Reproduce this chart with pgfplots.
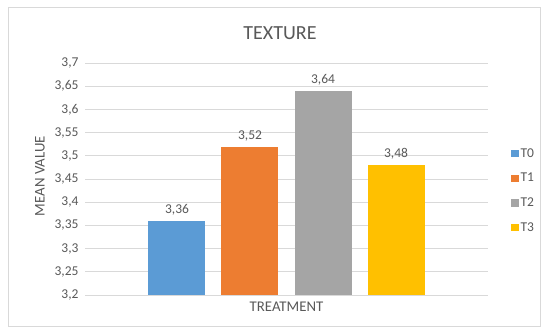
\documentclass[border=0pt]{standalone}
\usepackage{fontspec}
\setmainfont{Carlito}
\usepackage{pgfplots}
\pgfplotsset{compat=1.18}

\definecolor{txt}{HTML}{595959}
\definecolor{gridc}{HTML}{D9D9D9}
\definecolor{cT0}{HTML}{5B9BD5}
\definecolor{cT1}{HTML}{ED7D31}
\definecolor{cT2}{HTML}{A5A5A5}
\definecolor{cT3}{HTML}{FFC000}

\newcommand{\sq}[1]{\fill[#1] (0pt,-3.6pt) rectangle (7.2pt,3.6pt);}

\begin{document}
\begin{tikzpicture}[x=1pt,y=1pt]
  % page and chart frame
  \fill[white] (0,0) rectangle (546,331);
  \draw[gridc, line width=0.8pt] (8,5) rectangle (540,324);
  \node[txt, font=\fontsize{20}{24}\selectfont] at (280,298) {TEXTURE};
  \begin{axis}[
    at={(85pt,36pt)}, anchor=south west,
    scale only axis, width=403pt, height=232pt,
    xmin=-1.26, xmax=4.26,
    ymin=3.2, ymax=3.7,
    ytick={3.2,3.25,3.3,3.35,3.4,3.45,3.5,3.55,3.6,3.65,3.7},
    xtick=\empty,
    ymajorgrids,
    grid style={gridc, line width=0.8pt},
    axis line style={draw=none},
    major tick length=0pt,
    tick label style={txt, font=\fontsize{13.5}{16}\selectfont},
    yticklabel style={xshift=-3pt},
    /pgf/number format/assume math mode=true,
    /pgf/number format/.cd, use comma, fixed, precision=2, /pgfplots/.cd,
    ylabel={MEAN VALUE},
    xlabel={TREATMENT},
    every axis y label/.style={at={(axis description cs:0,0.5)}, xshift=-45pt, yshift=3pt,
      rotate=90, anchor=center, txt, font=\fontsize{14.8}{17}\selectfont},
    every axis x label/.style={at={(axis description cs:0.5,0)}, anchor=center,
      yshift=-12pt, txt, font=\fontsize{14.8}{17}\selectfont},
    ybar, bar width=57pt, bar shift=0pt,
    nodes near coords,
    every node near coord/.append style={txt, font=\fontsize{13.5}{16}\selectfont, yshift=2pt,
      /pgf/number format/.cd, use comma, fixed, fixed zerofill, precision=2},
    legend style={draw=none, fill=none, at={(1.05,0.45)}, anchor=west,
      font=\fontsize{13.5}{16}\selectfont, text=txt, row sep=10.5pt,
      legend cell align=left},
    clip=false,
  ]
    \addplot[fill=cT0, draw=none, legend image code/.code={\sq{cT0}}] coordinates {(0,3.36)};
    \addplot[fill=cT1, draw=none, legend image code/.code={\sq{cT1}}] coordinates {(1,3.52)};
    \addplot[fill=cT2, draw=none, legend image code/.code={\sq{cT2}}] coordinates {(2,3.64)};
    \addplot[fill=cT3, draw=none, legend image code/.code={\sq{cT3}}] coordinates {(3,3.48)};
    \legend{T0,T1,T2,T3}
  \end{axis}
\end{tikzpicture}
\end{document}
